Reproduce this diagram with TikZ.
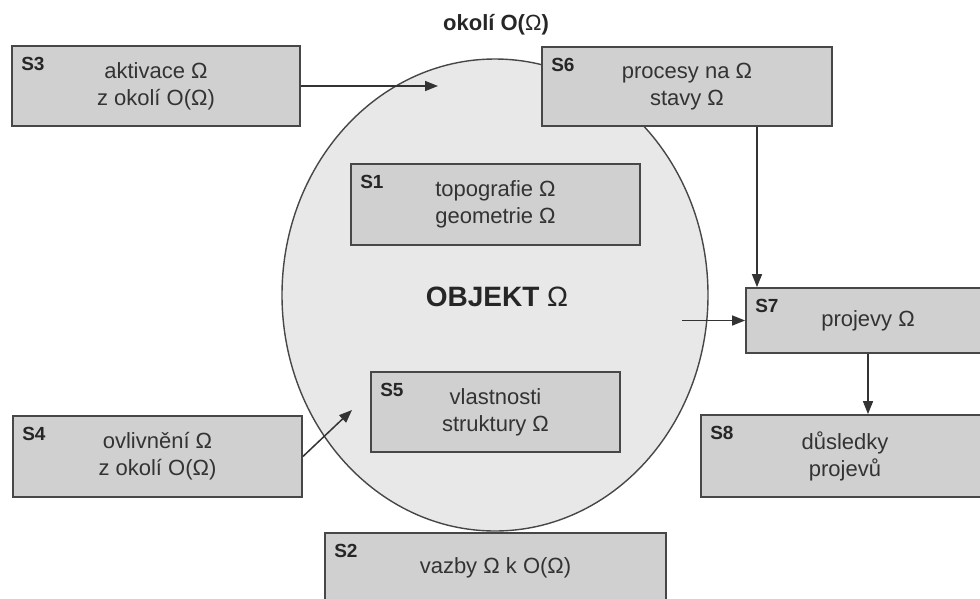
\documentclass[tikz,border=0pt]{standalone}
\usepackage{fontspec}
\setmainfont{Liberation Sans}
\usetikzlibrary{arrows.meta,shapes.geometric}
\definecolor{boxfill}{HTML}{D0D0D0}
\definecolor{ovalfill}{HTML}{E8E8E8}
\definecolor{edge}{HTML}{474747}
\definecolor{ink}{HTML}{333333}

\begin{document}
\begin{tikzpicture}[x=1pt,y=-1pt,
  box/.style={draw=edge, line width=1.8pt, fill=boxfill, inner sep=0pt,
    text=ink, align=center, font=\fontsize{22}{27}\selectfont},
  tag/.style={anchor=north west, inner sep=0pt, text=black!85,
    font=\fontsize{19}{19}\selectfont\bfseries, xshift=10pt, yshift=-12pt},
  link/.style={draw=ink, line width=1.5pt, -{Triangle[length=13pt,width=10pt]}}
]
\useasboundingbox (0,0) rectangle (980,598);
\fill[white] (0,0) rectangle (980,598);
\clip (0,0) rectangle (980,598);

% the object and its surroundings
\node[ellipse, draw=edge, line width=1.4pt, fill=ovalfill, inner sep=0pt,
  minimum width=426pt, minimum height=472pt] (obj) at (495,295) {};
\node[inner sep=0pt, text=black!85, font=\fontsize{22}{22}\selectfont\bfseries]
  (env) at (496,25) {okolí O(\mdseries Ω\bfseries)};
\node[inner sep=0pt, text=black!85, font=\fontsize{28}{28}\selectfont\bfseries]
  (objt) at (497,297) {OBJEKT \mdseries Ω};

% boxes
\node[box, minimum width=288pt, minimum height=80pt] (s3) at (156,86)
  {aktivace Ω\\z okolí O(Ω)};
\node[box, minimum width=290pt, minimum height=79pt] (s6) at (687,86.5)
  {procesy na Ω\\stavy Ω};
\node[box, minimum width=289pt, minimum height=81pt] (s1) at (495.5,204.5)
  {topografie Ω\\geometrie Ω};
\node[box, minimum width=249pt, minimum height=80pt] (s5) at (495.5,412)
  {vlastnosti\\struktury Ω};
\node[box, minimum width=289pt, minimum height=81pt] (s4) at (157.5,456.5)
  {ovlivnění Ω\\z okolí O(Ω)};
\node[box, minimum width=244pt, minimum height=65pt] (s7) at (868,320.5)
  {projevy Ω};
\node[box, minimum width=288pt, minimum height=82pt] (s8) at (845,456)
  {důsledky\\projevů};
\node[box, minimum width=341pt, minimum height=70pt] (s2) at (495.5,568)
  {vazby Ω k O(Ω)};

% box tags
\node[tag] (t3) at (s3.north west) {S3};
\node[tag] (t6) at (s6.north west) {S6};
\node[tag] (t1) at (s1.north west) {S1};
\node[tag] (t5) at (s5.north west) {S5};
\node[tag] (t4) at (s4.north west) {S4};
\node[tag] (t7) at (s7.north west) {S7};
\node[tag] (t8) at (s8.north west) {S8};
\node[tag] (t2) at (s2.north west) {S2};

% connectors
\coordinate (p3) at (438,86);
\coordinate (x67) at (757,0);
\coordinate (p7) at (682,320.5);
\coordinate (p5) at (352,410);
\draw[link] (s3.east) -- (p3);
\draw[link] (s6.south -| x67) -- (s7.north -| x67);
\draw[link] (p7) -- (s7.west);
\draw[link] (s7.south) -- (s8.north -| s7.south);
\draw[link] (s4.east) -- (p5);
\end{tikzpicture}
\end{document}
